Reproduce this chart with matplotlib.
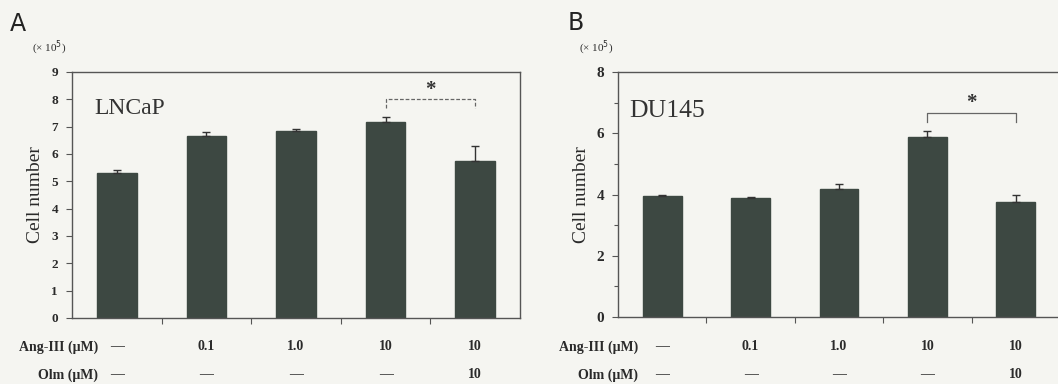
import matplotlib
matplotlib.use("Agg")
import matplotlib.pyplot as plt
from matplotlib.transforms import blended_transform_factory
import numpy as np

# ---- data ----
ang_labels = ["\u2014", "0.1", "1.0", "10", "10"]
olm_labels = ["\u2014", "\u2014", "\u2014", "\u2014", "10"]

lncap_vals = [5.32, 6.67, 6.85, 7.18, 5.75]
lncap_err = [0.10, 0.13, 0.05, 0.17, 0.55]

du145_vals = [3.95, 3.90, 4.19, 5.89, 3.75]
du145_err = [0.03, 0.02, 0.16, 0.19, 0.25]

BG = "#f5f5f1"
BAR = "#3d4842"
TXT = "#2a2a2a"
SERIF = ["Liberation Serif", "DejaVu Serif"]

W, H = 1058, 384
fig = plt.figure(figsize=(W / 100, H / 100), dpi=100, facecolor=BG)


def px_axes(left, right, top, bottom):
    return fig.add_axes([left / W, (H - bottom) / H, (right - left) / W, (bottom - top) / H])


def draw_panel(ax, vals, errs, ymax, major, minor, name, name_xy, name_fs, tick_fs,
               brk_y, brk_drop, star_y, brk_style):
    x = np.arange(len(vals))
    ax.set_facecolor(BG)
    ax.bar(x, vals, width=0.44, color=BAR, edgecolor=BAR, zorder=2)
    ax.errorbar(x, vals, yerr=[np.zeros(len(errs)), errs], fmt="none",
                ecolor="#333333", elinewidth=1.0, capsize=3, capthick=1.0, zorder=3)
    ax.set_xlim(-0.5, len(vals) - 0.5)
    ax.set_ylim(0, ymax)
    ax.set_yticks(major)
    ax.set_yticks(minor, minor=True)
    ax.set_yticklabels([str(v) for v in major], fontfamily=SERIF, fontweight="bold",
                       fontsize=tick_fs, color=TXT)
    ax.set_xticks(np.arange(len(vals) - 1) + 0.5)
    ax.set_xticklabels([])
    ax.tick_params(axis="both", which="both", direction="out", color="#555555",
                   width=0.8, pad=6)
    ax.tick_params(axis="y", which="major", length=4)
    ax.tick_params(axis="y", which="minor", length=3)
    ax.tick_params(axis="x", length=4)
    for s in ax.spines.values():
        s.set_color("#555555")
        s.set_linewidth(1.0)
    ax.set_ylabel("Cell number", fontfamily=SERIF, fontsize=14, color=TXT, labelpad=5)
    ax.text(name_xy[0], name_xy[1], name, transform=ax.transAxes, fontfamily=SERIF,
            fontsize=name_fs, color="#333333", va="center", ha="left")
    # significance bracket between bars 3 and 4
    ax.plot([3, 3, 4, 4], [brk_y - brk_drop, brk_y, brk_y, brk_y - brk_drop],
            color="#666666", lw=0.9, ls=brk_style, zorder=3)
    ax.text(3.5, star_y, "*", ha="center", va="center", fontsize=15,
            fontweight="bold", color="#333333", fontfamily=SERIF)
    ax.text(-0.05, 1.06, "(\u00d7 10$^5$)", transform=ax.transAxes, fontfamily=SERIF,
            fontsize=8, color=TXT, ha="center", va="bottom")
    return x


def draw_rows(ax, x, label_x, ang_y, olm_y):
    tr = blended_transform_factory(ax.transData, fig.transFigure)
    fig.text(label_x / W, (H - ang_y) / H, "Ang-III (\u03bcM)", ha="right", va="center",
             fontfamily=SERIF, fontweight="bold", fontsize=10, color=TXT)
    fig.text(label_x / W, (H - olm_y) / H, "Olm (\u03bcM)", ha="right", va="center",
             fontfamily=SERIF, fontweight="bold", fontsize=10, color=TXT)
    for xi, a, o in zip(x, ang_labels, olm_labels):
        ax.text(xi, (H - ang_y) / H, a, transform=tr, ha="center", va="center",
                fontfamily=SERIF, fontweight="bold", fontsize=10, color=TXT)
        ax.text(xi, (H - olm_y) / H, o, transform=tr, ha="center", va="center",
                fontfamily=SERIF, fontweight="bold", fontsize=10, color=TXT)


# Panel A
axA = px_axes(72, 520, 72, 318)
xA = draw_panel(axA, lncap_vals, lncap_err, 9, list(range(0, 10)), [],
                "LNCaP", (0.05, 0.85), 17, 9.5, 8.02, 0.32, 8.35, (0, (3, 1.5)))
draw_rows(axA, xA, 98, 347, 375)
fig.text(10 / W, (H - 24) / H, "A", fontsize=17, fontfamily="DejaVu Sans",
         color="#222222", ha="left", va="center")

# Panel B
axB = px_axes(618, 1060, 72, 317)
xB = draw_panel(axB, du145_vals, du145_err, 8, [0, 2, 4, 6, 8], [1, 3, 5, 7],
                "DU145", (0.025, 0.84), 18.5, 11, 6.67, 0.3, 7.0, "-")
axB.spines["right"].set_visible(False)
draw_rows(axB, xB, 638, 347, 375)
fig.text(568 / W, (H - 23) / H, "B", fontsize=17, fontfamily="DejaVu Sans",
         color="#222222", ha="left", va="center")

fig.savefig("out.png", dpi=100, facecolor=BG)
